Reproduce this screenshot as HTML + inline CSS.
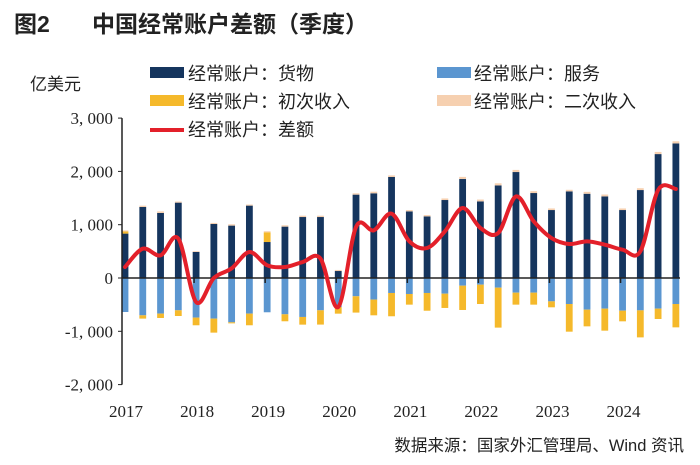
<!DOCTYPE html>
<html><head><meta charset="utf-8"><style>
body{margin:0;background:#fff;width:700px;height:465px;overflow:hidden}
svg{display:block}
</style></head><body>
<svg id="chart" width="700" height="465" font-family="'Liberation Sans','Noto Sans CJK SC',sans-serif">
<text x="14" y="32" font-size="23" font-weight="bold" fill="#222">图2</text>
<text x="92" y="32" font-size="23" font-weight="bold" fill="#222">中国经常账户差额（季度）</text>
<text x="30" y="90" font-size="17" fill="#222">亿美元</text>
<g font-size="18" fill="#222">
<rect x="150" y="67" width="34" height="11" fill="#15355e"/>
<text x="188" y="80">经常账户：货物</text>
<rect x="437" y="67" width="34" height="11" fill="#5b96d0"/>
<text x="474" y="80">经常账户：服务</text>
<rect x="150" y="95" width="34" height="11" fill="#f5b92b"/>
<text x="188" y="108">经常账户：初次收入</text>
<rect x="437" y="95" width="34" height="11" fill="#f6d0b0"/>
<text x="474" y="108">经常账户：二次收入</text>
<line x1="150" y1="130" x2="184" y2="130" stroke="#e3202a" stroke-width="4"/>
<text x="188" y="136">经常账户：差额</text>
</g>
<g id="plot"></g>
<text x="684" y="451" font-size="16.5" fill="#222" text-anchor="end">数据来源：国家外汇管理局、Wind 资讯</text>
</svg>
<script>
const years=["2017","2018","2019","2020","2021","2022","2023","2024"];
const yTicks=[3000,2000,1000,0,-1000,-2000];
const yTickLabels=["3, 000","2, 000","1, 000","0","-1, 000","-2, 000"];
const goods=[833,1332,1220,1414,488,1013,983,1358,675,964,1144,1144,131,1564,1589,1895,1250,1156,1463,1857,1437,1737,1988,1594,1275,1625,1581,1531,1275,1650,2325,2525];
const services=[-638,-700,-668,-606,-743,-762,-831,-668,-643,-681,-731,-606,-544,-343,-405,-281,-300,-281,-294,-144,-125,-181,-275,-275,-438,-488,-594,-575,-613,-607,-575,-488];
const primary=[40,-62,-82,-107,-144,-263,-20,-219,183,-131,-144,-268,-125,-306,-295,-437,-200,-333,-268,-456,-363,-750,-225,-225,-112,-519,-313,-413,-200,-507,-194,-438];
const secondary=[20,25,30,20,15,20,25,20,20,25,25,25,20,25,30,30,25,25,30,40,35,40,40,35,30,30,35,35,30,35,40,40];
const balance=[206,550,425,740,-450,0,180,488,238,206,300,364,-544,957,894,1208,688,563,875,1313,938,844,1530,1063,750,638,688,625,531,500,1650,1670];
const NS="http://www.w3.org/2000/svg";
const g=document.getElementById('plot');
const x0=122,xStep=17.77,xFirst=125;
const y=v=>278-v*0.0533;
const x=i=>xFirst+i*xStep;
function el(t,a){const e=document.createElementNS(NS,t);for(const k in a)e.setAttribute(k,a[k]);g.appendChild(e);return e;}
yTicks.forEach((t,i)=>{
 const tl=el('text',{x:113,y:y(t)+6,'text-anchor':'end','font-size':17,'font-family':"'Liberation Serif',serif",fill:'#222'});
 tl.textContent=yTickLabels[i];
 
 
 const tk=el('line',{x1:x0-4,x2:x0,y1:y(t),y2:y(t),stroke:'#222','stroke-width':1});
 
 
});
function rect(i,from,val,color,name){
 const a=y(from),b=y(from+val);
 const r=el('rect',{x:x(i)-3.4,y:Math.min(a,b),width:6.8,height:Math.abs(a-b),fill:color});
 
 
}
goods.forEach((gv,i)=>{
 let pos=0,neg=0;
 const add=(v,c,n)=>{if(v>=0){rect(i,pos,v,c,n);pos+=v;}else{rect(i,neg,v,c,n);neg+=v;}};
 add(gv,'#15355e','bar-goods');
 add(services[i],'#5b96d0','bar-services');
 add(primary[i],'#f5b92b','bar-primary-income');
 add(secondary[i],'#f6d0b0','bar-secondary-income');
});
const ax=el('line',{x1:x0,x2:680,y1:y(0),y2:y(0),stroke:'#222','stroke-width':1.5});


const ay=el('line',{x1:x0,x2:x0,y1:y(3000),y2:y(-2000),stroke:'#222','stroke-width':1.5});


years.forEach((yr,k)=>{
 if(k>0){const tk=el('line',{x1:x(k*4)-2,x2:x(k*4)-2,y1:y(0),y2:y(0)+5,stroke:'#222','stroke-width':1.5});
 
 }
 const t=el('text',{x:x(k*4)+1,y:417,'text-anchor':'middle','font-size':17,'font-family':"'Liberation Serif',serif",fill:'#222'});
 t.textContent=yr;
 
 
});
const pts=balance.map((v,i)=>[x(i),y(v)]);
let d=`M${pts[0][0]},${pts[0][1]}`;
for(let i=0;i<pts.length-1;i++){
 const p0=pts[Math.max(0,i-1)],p1=pts[i],p2=pts[i+1],p3=pts[Math.min(pts.length-1,i+2)];
 d+=` C${p1[0]+(p2[0]-p0[0])/6},${p1[1]+(p2[1]-p0[1])/6} ${p2[0]-(p3[0]-p1[0])/6},${p2[1]-(p3[1]-p1[1])/6} ${p2[0]},${p2[1]}`;
}
const ln=el('path',{d:d,fill:'none',stroke:'#e3202a','stroke-width':4,'stroke-linejoin':'round','stroke-linecap':'round'});


</script>
</body></html>
